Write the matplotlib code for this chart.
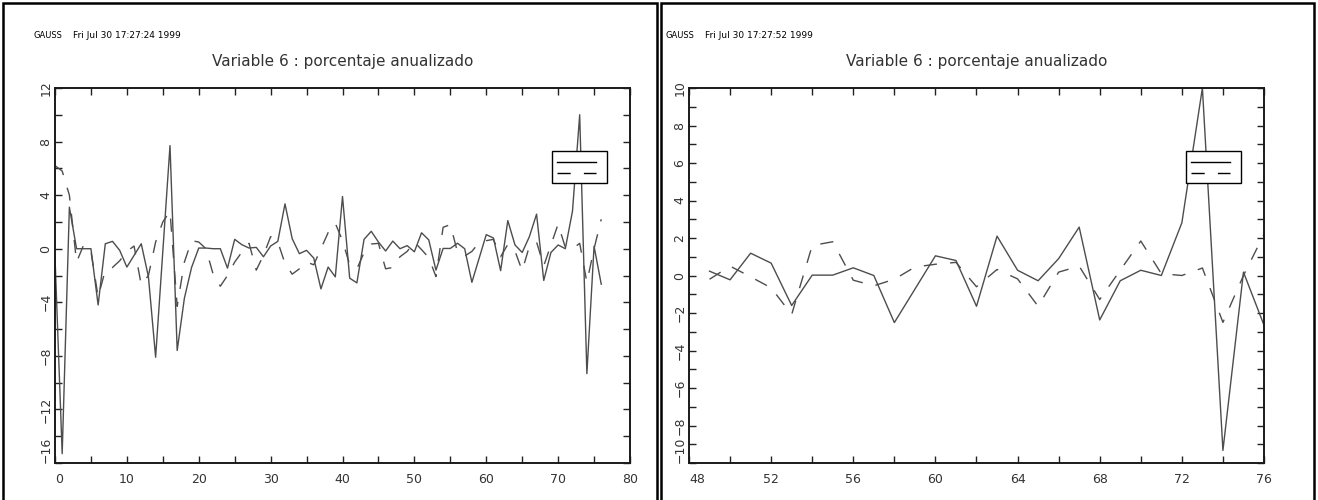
import numpy as np
import matplotlib
matplotlib.use('Agg')
import matplotlib.pyplot as plt
from matplotlib.patches import Rectangle

plt.rcParams['font.family'] = 'DejaVu Sans'
plt.rcParams['lines.scale_dashes'] = False

periods = list(range(77))
solid = [-0.6, -15.3, 3.1, 0.0, 0.0, 0.0, -4.2, 0.37, 0.55, -0.12,
         -1.37, -0.5, 0.37, -2.1, -8.1, -0.2, 7.7, -7.6, -3.7, -1.4,
         0.05, 0.05, 0.0, 0.0, -1.45, 0.7, 0.3, 0.05, 0.1, -0.6,
         0.2, 0.55, 3.35, 0.75, -0.37, -0.12, -0.7, -3.0, -1.37, -2.1,
         3.9, -2.2, -2.55, 0.7, 1.3, 0.5, -0.17, 0.57, 0.0, 0.23,
         -0.23, 1.19, 0.66, -1.6, 0.02, 0.02, 0.41, 0.0, -2.51, -0.73,
         1.05, 0.8, -1.64, 2.1, 0.28, -0.28, 0.9, 2.58, -2.37, -0.28,
         0.28, 0.0, 2.81, 10.0, -9.33, 0.18, -2.65]
dashed = [6.2, 5.8, 4.0, -1.0, 0.3, -0.2, -3.6, -1.6, -1.4, -0.9,
          -0.2, 0.2, -2.7, -2.0, 0.5, 2.0, 2.8, -4.3, -1.0, 0.6,
          0.5, 0.0, -1.9, -2.8, -2.0, -1.0, -0.25, 0.4, -1.6, -0.5,
          0.9, 0.5, -1.1, -1.9, -1.5, -1.0, -1.2, 0.0, 1.2, 1.9,
          0.6, -1.2, -1.5, -0.3, 0.35, 0.4, -1.5, -1.4, -0.6, -0.2,
          0.5, -0.07, -0.66, -2.08, 1.6, 1.8, -0.25, -0.55, -0.2, 0.45,
          0.6, 0.7, -0.6, 0.32, -0.18, -1.64, 0.18, 0.5, -1.28, 0.28,
          1.84, 0.1, 0.0, 0.4, -2.5, 0.0, 2.2]

title = 'Variable 6 : porcentaje anualizado'
stamps = ['Fri Jul 30 17:27:24 1999', 'Fri Jul 30 17:27:52 1999']

left_xticks = [0, 10, 20, 30, 40, 50, 60, 70, 80]
left_yticks = [-16, -12, -8, -4, 0, 4, 8, 12]
right_xticks = [48, 52, 56, 60, 64, 68, 72, 76]
right_yticks = [-10, -8, -6, -4, -2, 0, 2, 4, 6, 8, 10]

W, H = 1318, 500
fig = plt.figure(figsize=(W / 100, H / 100), dpi=100)

def fbox(x0, y0, x1, y1):
    # pixel box -> figure fraction [left, bottom, width, height]
    return [x0 / W, 1 - y1 / H, (x1 - x0) / W, (y1 - y0) / H]

panels = [
    dict(frame=(3, 3, 657), axes=(55, 88, 630, 463), start=0,
         xlim=(0, 80), ylim=(-16, 12), xt=left_xticks, yt=left_yticks,
         xminor=5, yminor=2, stamp=stamps[0], hx=34),
    dict(frame=(661, 3, 1314), axes=(689, 88, 1264, 463), start=49,
         xlim=(48, 76), ylim=(-10, 10), xt=right_xticks, yt=right_yticks,
         xminor=2, yminor=1, stamp=stamps[1], hx=666),
]

line_col = '#4d4d4d'
txt_col = '#333333'

for p in panels:
    fx0, fy0, fx1 = p['frame']
    fig.add_artist(Rectangle((fx0 / W, -0.02), (fx1 - fx0) / W, 1.02 - fy0 / H,
                             transform=fig.transFigure, fill=False,
                             ec='black', lw=1.8))
    fig.text(p['hx'] / W, 1 - 35 / H, 'GAUSS', fontsize=6, color='black', va='center')
    fig.text((p['hx'] + 39) / W, 1 - 35 / H, p['stamp'], fontsize=6.5, color='black', va='center')

    ax = fig.add_axes(fbox(*p['axes']))
    s = p['start']
    ax.plot(periods[s:], solid[s:], color=line_col, lw=1.0)
    ax.plot(periods[s:], dashed[s:], color=line_col, lw=1.0, dashes=(9.5, 9.5))
    ax.set_xlim(*p['xlim'])
    ax.set_ylim(*p['ylim'])

    ax.set_xticks(p['xt'])
    ax.set_xticks(np.arange(p['xlim'][0], p['xlim'][1] + 0.01, p['xminor']), minor=True)
    ax.set_yticks(p['yt'])
    ax.set_yticks(np.arange(p['ylim'][0], p['ylim'][1] + 0.01, p['yminor']), minor=True)
    ax.tick_params(which='both', direction='in', length=5, width=1,
                   top=True, right=True, colors='#222222', labelcolor=txt_col,
                   labelsize=9)
    ax.tick_params(axis='x', pad=7)
    ax.tick_params(axis='y', pad=2)
    for lbl in ax.get_yticklabels():
        lbl.set_rotation(90)
        lbl.set_va('center')
    ax.get_yticklabels()[0].set_va('bottom')
    ax.get_xticklabels()[0].set_ha('left')
    for sp in ax.spines.values():
        sp.set_linewidth(1.4)
        sp.set_color('#1a1a1a')

    ax.set_title(title, fontsize=11, color=txt_col, pad=16)

    # legend box without text, as in the original
    lx0, ly0, lx1, ly1 = p['axes'][2] - 78, 151, p['axes'][2] - 23, 183
    ax0, ay0, ax1, ay1 = p['axes']
    tr = lambda x, y: ((x - ax0) / (ax1 - ax0), (ay1 - y) / (ay1 - ay0))
    bx, by = tr(lx0, ly1)
    bw = (lx1 - lx0) / (ax1 - ax0)
    bh = (ly1 - ly0) / (ay1 - ay0)
    ax.add_patch(Rectangle((bx, by), bw, bh, transform=ax.transAxes,
                           fc='white', ec='black', lw=1.0, zorder=5))
    ax.plot([tr(lx0 + 5, 0)[0], tr(lx1 - 11, 0)[0]], [tr(0, 162)[1]] * 2,
            transform=ax.transAxes, color='black', lw=1.0, zorder=6)
    ax.plot([tr(lx0 + 5, 0)[0], tr(lx1 - 11, 0)[0]], [tr(0, 173)[1]] * 2,
            transform=ax.transAxes, color='black', lw=1.0, zorder=6,
            dashes=(9.5, 9.5))

fig.savefig('out.png', dpi=100, facecolor='white')
